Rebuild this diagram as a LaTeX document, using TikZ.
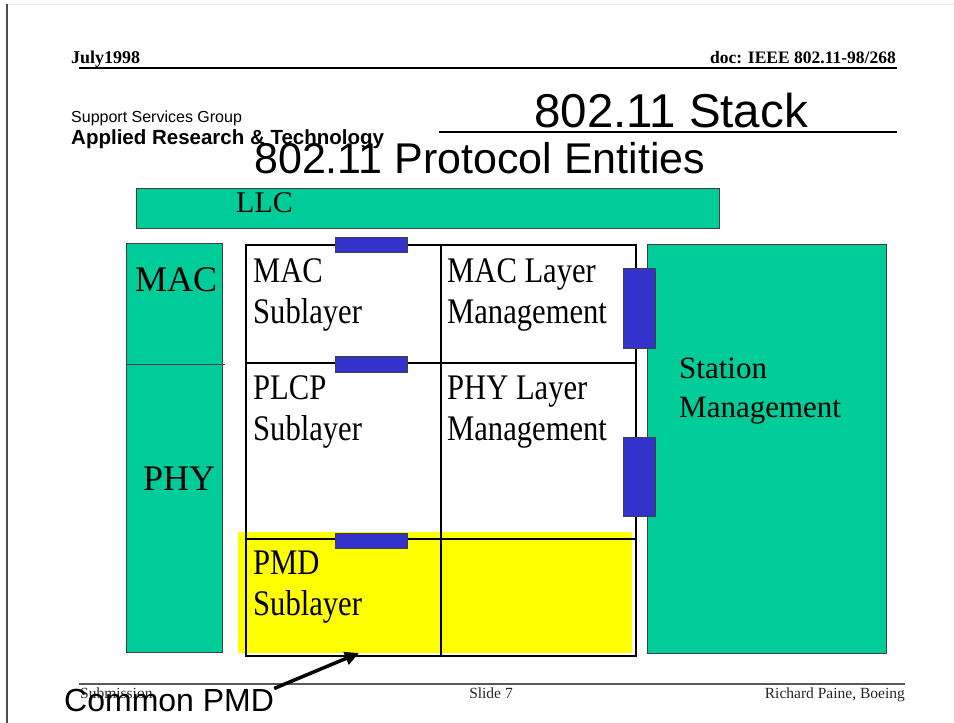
\documentclass[tikz,border=0pt]{standalone}
\usepackage{fontspec}
\setmainfont{Liberation Serif}
\setsansfont{Liberation Sans}
\newfontfamily\cellfont[FakeStretch=0.85]{Liberation Serif}
\usepackage{tikz}
\usetikzlibrary{positioning, arrows.meta}
\definecolor{sea-green}{HTML}{00CC99}
\definecolor{iris-blue}{HTML}{3333CC}
\definecolor{lemon}{HTML}{FFFF00}

\begin{document}
\begin{tikzpicture}[x=1pt, y=-1pt,
    greenbox/.style={draw=black!75, fill=sea-green, line width=0.8pt},
    bluebox/.style={draw=black!75, fill=iris-blue, line width=0.8pt},
    txt/.style={anchor=base west, inner sep=0pt, align=left},
    celltxt/.style={txt, font=\cellfont\fontsize{36}{41}\selectfont},
    foot/.style={inner sep=0pt, anchor=base, font=\fontsize{15.5}{18}\selectfont, black!85}]
    \useasboundingbox (0, 0) rectangle (954, 723);
    % page edges
    \draw[black!8, line width=0.6pt] (7, 4) -- (954, 4);
    \draw[black!70, line width=1.5pt] (7, 4) -- (7, 723);
    % header
    \node[txt, font=\fontsize{18}{20}\selectfont\bfseries] (date) at (71, 63) {July1998};
    \node[txt, anchor=base east, font=\fontsize{17.5}{20}\selectfont\bfseries] (docid) at (896, 63) {doc: IEEE 802.11-98/268};
    \draw[line width=1.2pt] (79, 68) -- (897, 68);
    \node[txt, font=\sffamily\fontsize{16}{18}\selectfont] (group) at (71, 122) {Support Services Group};
    \node[txt, font=\sffamily\fontsize{20.5}{22}\selectfont\bfseries] (lab) at (71, 144) {Applied Research \& Technology};
    \node[txt, font=\sffamily\fontsize{47.5}{50}\selectfont] (stack) at (534, 127) {802.11 Stack};
    \draw[line width=1.5pt] (439, 132) -- (897, 132);
    \node[txt, font=\sffamily\fontsize{43}{46}\selectfont] (title) at (254, 173) {802.11 Protocol Entities};
    % green bars
    \draw[greenbox] (136, 188) rectangle (719, 228);
    \node[txt, font=\fontsize{30}{36}\selectfont] (llc) at (236, 212) {LLC};
    \draw[greenbox] (126, 243) rectangle (222, 652);
    \draw[black!75, line width=0.8pt] (126, 364) -- (225, 364);
    \node[txt, font=\fontsize{36}{40}\selectfont] (mac) at (135, 291) {MAC};
    \node[txt, font=\fontsize{36}{40}\selectfont] (phy) at (143, 490) {PHY};
    \draw[greenbox] (647, 244) rectangle (886, 653);
    \node[txt, font=\fontsize{31}{39}\selectfont] (sta) at (679, 417) {Station\\Management};
    % sublayer grid
    \fill[lemon] (238, 532) rectangle (632, 653);
    \draw[line width=1.2pt] (246, 363) -- (636, 363);
    \draw[line width=1.2pt] (246, 539) -- (636, 539);
    \draw[line width=1.2pt] (441, 245) -- (441, 656);
    \draw[line width=2.5pt] (246, 245) rectangle (636, 656);
    \node[celltxt] (macsub) at (253, 323) {MAC\\Sublayer};
    \node[celltxt] (macmgt) at (447, 323) {MAC Layer\\Management};
    \node[celltxt] (plcp) at (253, 440) {PLCP\\Sublayer};
    \node[celltxt] (phymgt) at (447, 440) {PHY Layer\\Management};
    \node[celltxt] (pmd) at (253, 615) {PMD\\Sublayer};
    % service access points
    \draw[bluebox] (335, 237) rectangle (407, 252);
    \draw[bluebox] (335, 356) rectangle (407, 372);
    \draw[bluebox] (335, 533) rectangle (407, 548);
    \draw[bluebox] (623, 268) rectangle (655, 348);
    \draw[bluebox] (623, 437) rectangle (655, 516);
    % footer
    \draw[black!65, line width=1.2pt] (79, 684) -- (905, 684);
    \node[foot, anchor=base west] (sub) at (80, 698) {Submission};
    \node[foot] (slide) at (491, 698) {Slide 7};
    \node[foot, anchor=base east] (author) at (905, 698) {Richard Paine, Boeing};
    \node[txt, font=\sffamily\fontsize{32}{36}\selectfont] (common) at (64, 711) {Common PMD};
    \coordinate (pmdtip) at (359, 653);
    \draw[-{Triangle[length=14pt, width=13pt]}, line width=3.5pt] (common.north east) -- (pmdtip);
\end{tikzpicture}
\end{document}
